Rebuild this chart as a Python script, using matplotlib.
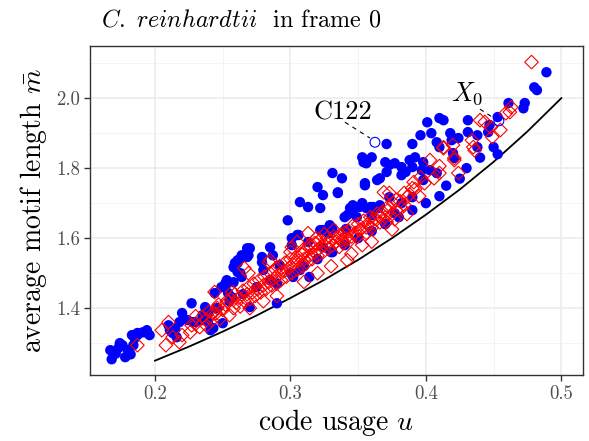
import matplotlib
matplotlib.use("Agg")
import matplotlib.pyplot as plt
import numpy as np

# ---------------- data ----------------
blue_u = [0.169, 0.168, 0.173, 0.176, 0.178, 0.180, 0.184, 0.185, 0.183, 0.187,
          0.191, 0.194, 0.196, 0.167, 0.174, 0.187, 0.193, 0.171, 0.182,
          0.210, 0.211, 0.213, 0.220, 0.218, 0.227, 0.216, 0.224, 0.230, 0.235,
          0.237, 0.244, 0.241, 0.246, 0.253, 0.254, 0.252, 0.258, 0.261, 0.261,
          0.265, 0.268, 0.264, 0.243, 0.250, 0.239, 0.239,
          0.298, 0.268, 0.264, 0.259, 0.279, 0.285, 0.287, 0.305, 0.301, 0.324,
          0.249, 0.252, 0.307, 0.314, 0.302, 0.290, 0.270, 0.257,
          0.331, 0.338, 0.320, 0.324, 0.335, 0.307, 0.313, 0.322, 0.355, 0.364,
          0.344, 0.353, 0.359, 0.365, 0.340, 0.349, 0.306, 0.313, 0.301, 0.328,
          0.324, 0.331, 0.270, 0.269, 0.261, 0.279, 0.263, 0.258, 0.292, 0.280,
          0.331, 0.353, 0.356, 0.342, 0.348, 0.341, 0.322, 0.329,
          0.396, 0.404, 0.408, 0.390, 0.371, 0.354, 0.360, 0.370, 0.373, 0.371,
          0.377, 0.382, 0.388, 0.392, 0.390, 0.385, 0.382, 0.398, 0.397, 0.403,
          0.408, 0.355, 0.366, 0.335, 0.346, 0.351, 0.356, 0.361, 0.345, 0.360,
          0.373, 0.366, 0.377, 0.382, 0.390, 0.398,
          0.489, 0.480, 0.482, 0.473, 0.472, 0.461, 0.453, 0.447, 0.446, 0.438,
          0.431, 0.431, 0.424, 0.419, 0.420, 0.421, 0.413, 0.410, 0.401, 0.418,
          0.410, 0.438, 0.453,
          0.275, 0.285, 0.290, 0.300, 0.310, 0.320, 0.330, 0.340, 0.350, 0.360,
          0.370, 0.380, 0.390, 0.400, 0.410, 0.415, 0.425, 0.430, 0.440, 0.450,
          0.265, 0.255, 0.245, 0.235, 0.228, 0.215]
blue_m = [1.274, 1.254, 1.286, 1.294, 1.260, 1.280, 1.294, 1.314, 1.323, 1.329,
          1.331, 1.337, 1.323, 1.280, 1.300, 1.323, 1.331, 1.270, 1.268,
          1.351, 1.337, 1.329, 1.386, 1.360, 1.414, 1.317, 1.366, 1.360, 1.366,
          1.403, 1.443, 1.337, 1.400, 1.480, 1.443, 1.460, 1.474, 1.503, 1.529,
          1.546, 1.571, 1.489, 1.343, 1.357, 1.360, 1.386,
          1.651, 1.546, 1.551, 1.529, 1.531, 1.574, 1.551, 1.609, 1.580, 1.623,
          1.460, 1.471, 1.509, 1.489, 1.489, 1.414, 1.403, 1.431,
          1.786, 1.771, 1.746, 1.723, 1.729, 1.703, 1.689, 1.686, 1.751, 1.766,
          1.686, 1.700, 1.689, 1.686, 1.660, 1.660, 1.609, 1.589, 1.600, 1.614,
          1.574, 1.560, 1.571, 1.551, 1.537, 1.546, 1.500, 1.517, 1.523, 1.509,
          1.629, 1.831, 1.814, 1.666, 1.689, 1.626, 1.623, 1.637,
          1.894, 1.900, 1.874, 1.869, 1.869, 1.817, 1.831, 1.817, 1.809, 1.789,
          1.814, 1.803, 1.823, 1.831, 1.803, 1.789, 1.780, 1.817, 1.794, 1.794,
          1.786, 1.757, 1.771, 1.731, 1.694, 1.689, 1.686, 1.689, 1.674, 1.666,
          1.717, 1.694, 1.671, 1.700, 1.717, 1.766,
          2.074, 2.031, 2.023, 1.986, 1.971, 1.986, 1.946, 1.923, 1.903, 1.894,
          1.937, 1.903, 1.886, 1.880, 1.843, 1.829, 1.937, 1.943, 1.931, 1.900,
          1.860, 1.860, 1.840,
          1.460, 1.480, 1.470, 1.500, 1.520, 1.540, 1.560, 1.580, 1.600, 1.620,
          1.640, 1.660, 1.680, 1.700, 1.720, 1.750, 1.770, 1.800, 1.830, 1.860,
          1.440, 1.420, 1.400, 1.380, 1.360, 1.340]

red_u = [0.187, 0.205, 0.210, 0.208, 0.213, 0.218, 0.220, 0.226, 0.230, 0.227,
         0.233, 0.238, 0.243, 0.244, 0.246, 0.253,
         0.269, 0.284, 0.257, 0.314, 0.309, 0.300, 0.305, 0.318, 0.325,
         0.313, 0.319, 0.301, 0.285, 0.266, 0.353, 0.342,
         0.413, 0.421, 0.403, 0.410, 0.406, 0.396, 0.399, 0.391, 0.390, 0.384,
         0.386, 0.378, 0.373, 0.369, 0.382, 0.386, 0.377, 0.372, 0.371, 0.366,
         0.361, 0.356, 0.351, 0.349, 0.344, 0.339, 0.335, 0.332, 0.410,
         0.478, 0.462, 0.463, 0.459, 0.455, 0.449, 0.4435, 0.440, 0.448, 0.434,
         0.435, 0.436, 0.420, 0.413, 0.421, 0.424,
         0.250, 0.252, 0.255, 0.256, 0.258, 0.260, 0.259,
         0.262, 0.263, 0.265, 0.266, 0.268, 0.269, 0.270,
         0.272, 0.273, 0.274, 0.276, 0.277, 0.278, 0.280,
         0.281, 0.282, 0.284, 0.285, 0.286, 0.288, 0.289, 0.290,
         0.291, 0.292, 0.293, 0.295, 0.296, 0.297, 0.299, 0.300,
         0.301, 0.302, 0.304, 0.305, 0.306, 0.308, 0.309, 0.310,
         0.311, 0.312, 0.314, 0.315, 0.316, 0.318, 0.319, 0.320,
         0.321, 0.322, 0.324, 0.325, 0.327, 0.328, 0.329,
         0.331, 0.332, 0.334, 0.336, 0.337, 0.338, 0.340,
         0.341, 0.343, 0.345, 0.346, 0.348, 0.350,
         0.352, 0.354, 0.356, 0.357, 0.359, 0.360,
         0.362, 0.364, 0.366, 0.368, 0.370,
         0.372, 0.374, 0.376, 0.378,
         0.381, 0.384, 0.388, 0.392, 0.395,
         0.230, 0.235, 0.238, 0.240, 0.242, 0.245, 0.247, 0.248,
         0.270, 0.280, 0.290, 0.310, 0.320, 0.330, 0.345, 0.360, 0.375]
red_m = [1.294, 1.337, 1.360, 1.294, 1.317, 1.303, 1.323, 1.331, 1.377, 1.351,
         1.346, 1.366, 1.386, 1.446, 1.400, 1.420,
         1.500, 1.531, 1.446, 1.580, 1.554, 1.560, 1.589, 1.586, 1.611,
         1.614, 1.600, 1.574, 1.537, 1.514, 1.580, 1.537,
         1.857, 1.829, 1.823, 1.786, 1.771, 1.774, 1.757, 1.760, 1.743, 1.729,
         1.717, 1.709, 1.729, 1.731, 1.686, 1.669, 1.654, 1.680, 1.646, 1.660,
         1.643, 1.631, 1.623, 1.603, 1.594, 1.586, 1.603, 1.623, 1.806,
         2.103, 1.960, 1.974, 1.957, 1.909, 1.889, 1.932, 1.937, 1.917, 1.880,
         1.860, 1.851, 1.866, 1.860, 1.823, 1.786,
         1.395, 1.410, 1.380, 1.425, 1.400, 1.415, 1.440,
         1.430, 1.405, 1.450, 1.420, 1.440, 1.460, 1.425,
         1.445, 1.470, 1.435, 1.455, 1.480, 1.445, 1.465,
         1.490, 1.455, 1.475, 1.500, 1.465, 1.485, 1.510, 1.470,
         1.495, 1.520, 1.480, 1.505, 1.530, 1.490, 1.515, 1.540,
         1.500, 1.525, 1.545, 1.510, 1.535, 1.555, 1.520, 1.540,
         1.565, 1.530, 1.550, 1.575, 1.540, 1.560, 1.585, 1.550,
         1.570, 1.595, 1.560, 1.580, 1.600, 1.570, 1.590,
         1.580, 1.605, 1.590, 1.575, 1.610, 1.595, 1.615,
         1.600, 1.620, 1.605, 1.635, 1.615, 1.640,
         1.625, 1.650, 1.615, 1.640, 1.660, 1.630,
         1.655, 1.670, 1.645, 1.675, 1.660,
         1.690, 1.665, 1.700, 1.680,
         1.705, 1.695, 1.725, 1.740, 1.720,
         1.355, 1.375, 1.350, 1.390, 1.365, 1.385, 1.410, 1.370,
         1.400, 1.420, 1.435, 1.475, 1.500, 1.520, 1.555, 1.590, 1.625]

# highlighted genes (open circles) and their labels
hl_u = [0.3624, 0.4539]
hl_m = [1.874, 1.935]
hl_labels = ["C122", "$X_0$"]
lab_u = [0.3387, 0.4305]
lab_m = [1.960, 2.012]
seg_start_u = [0.3402, 0.4399]
seg_start_m = [1.9314, 1.9686]
seg_end_u = [0.3587, 0.4502]
seg_end_m = [1.886, 1.943]

# theoretical lower bound curve
curve_u = [0.20, 0.225, 0.25, 0.275, 0.30, 0.325, 0.35, 0.375, 0.40, 0.425, 0.45, 0.475, 0.50]
curve_m = [1.250, 1.290, 1.333, 1.379, 1.429, 1.481, 1.538, 1.600, 1.667, 1.739, 1.818, 1.905, 2.000]

xticks = [0.2, 0.3, 0.4, 0.5]
xtick_labels = ["0.2", "0.3", "0.4", "0.5"]
yticks = [1.4, 1.6, 1.8, 2.0]
ytick_labels = ["1.4", "1.6", "1.8", "2.0"]
xminor = [0.15, 0.25, 0.35, 0.45]
yminor = [1.3, 1.5, 1.7, 1.9, 2.1]

# ---------------- style ----------------
plt.rcParams["font.family"] = ["cmr10", "DejaVu Serif"]
plt.rcParams["mathtext.fontset"] = "cm"
plt.rcParams["axes.unicode_minus"] = False

fig = plt.figure(figsize=(5.89, 4.41), dpi=100)
ax = fig.add_axes([90 / 589, 1 - 375 / 441, 493 / 589, 329 / 441])

ax.set_xlim(0.152, 0.516)
ax.set_ylim(1.209, 2.149)

for v in xminor:
    ax.axvline(v, color="#F2F2F2", lw=0.6, zorder=0)
for v in yminor:
    ax.axhline(v, color="#F2F2F2", lw=0.6, zorder=0)
for v in xticks:
    ax.axvline(v, color="#EBEBEB", lw=1.1, zorder=0)
for v in yticks:
    ax.axhline(v, color="#EBEBEB", lw=1.1, zorder=0)

ax.set_xticks(xticks)
ax.set_xticklabels(xtick_labels)
ax.set_yticks(yticks)
ax.set_yticklabels(ytick_labels)
ax.tick_params(axis="both", direction="out", length=4, width=1, color="#333333",
               labelcolor="#4D4D4D", labelsize=13.5, pad=3)
for s in ax.spines.values():
    s.set_color("#333333")
    s.set_linewidth(1.0)

ax.plot(curve_u, curve_m, color="black", lw=1.3, zorder=2)
ax.scatter(blue_u, blue_m, s=56, color="#0000FF", edgecolors="none", zorder=3)
ax.scatter(red_u, red_m, s=48, marker="D", facecolors="none", edgecolors="#FF0000",
           linewidths=0.8, zorder=4)
ax.scatter(hl_u, hl_m, s=50, facecolors="none", edgecolors="#0000FF", linewidths=0.8, zorder=5)

for i in range(len(hl_labels)):
    ax.plot([seg_start_u[i], seg_end_u[i]], [seg_start_m[i], seg_end_m[i]],
            color="black", lw=0.8, ls=(0, (4, 4)), zorder=5)
    ax.text(lab_u[i], lab_m[i], hl_labels[i], fontsize=19, ha="center", va="center", zorder=6)

ax.set_xlabel("code usage $u$", fontsize=20, labelpad=3)
ax.set_ylabel(r"average motif length $\bar{m}$", fontsize=20, labelpad=5)

fig.text(101 / 589, 1 - 20 / 441, r"$\mathit{C.\ reinhardtii}$  in frame 0", fontsize=17.4,
         ha="left", va="center")

fig.savefig("out.png", dpi=100)
